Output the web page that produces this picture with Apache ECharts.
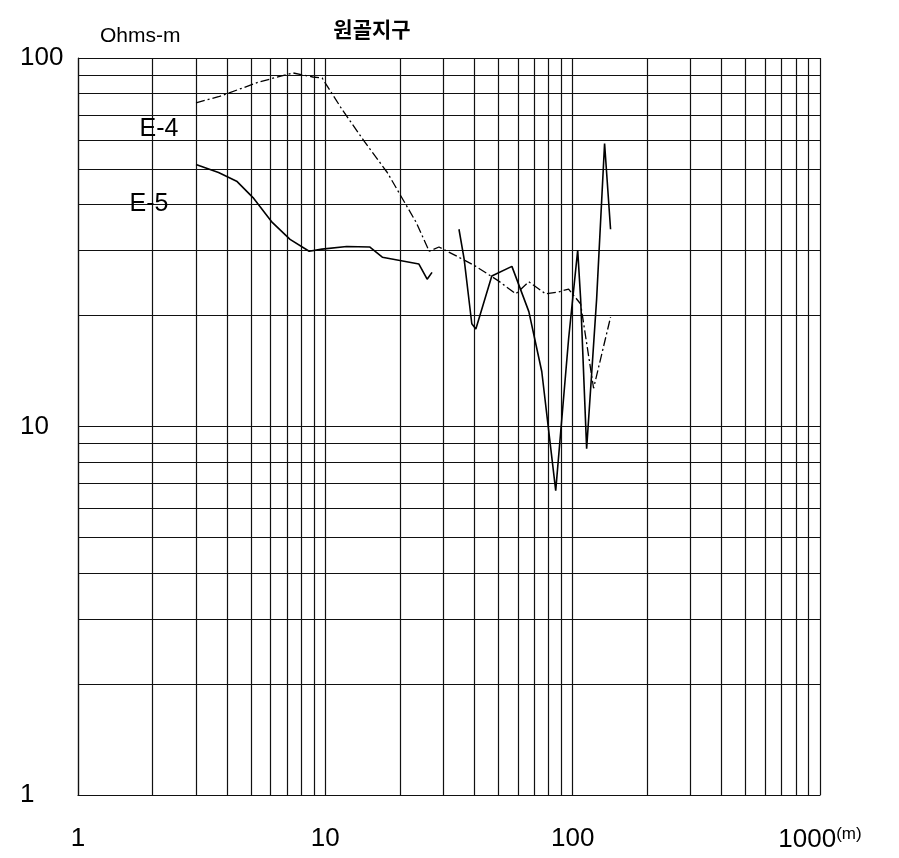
<!DOCTYPE html>
<html>
<head>
<meta charset="utf-8">
<script src="https://cdn.jsdelivr.net/npm/echarts@6/dist/echarts.min.js"></script>
<style>
  html, body { margin: 0; padding: 0; background: #fff; }
  #chart { width: 899px; height: 858px; }
</style>
</head>
<body>
<div id="chart"></div>
<script>
// Apparent resistivity sounding curves, 원골지구
const chartTitle = '원골지구';
const yUnit = 'Ohms-m';
const xUnit = '(m)';

// Log-grid values (decades and 2..9 subdivisions)
const gridX = [1, 2, 3, 4, 5, 6, 7, 8, 9, 10, 20, 30, 40, 50, 60, 70, 80, 90, 100,
               200, 300, 400, 500, 600, 700, 800, 900, 1000];
const gridY = [1, 2, 3, 4, 5, 6, 7, 8, 9, 10, 20, 30, 40, 50, 60, 70, 80, 90, 100];

// E-4 sounding: electrode spacing (m) and apparent resistivity (ohm-m)
const e4Dist = [3.0, 3.7, 5.4, 7.4, 8.9, 9.7, 11.7, 14.4, 17.8, 23.3, 26.3, 28.8, 35.7,
                40.6, 50.3, 58.9, 66.5, 77.8, 87.8, 96.3, 107.7, 121.5, 142.3];
const e4Rho  = [75.6, 78.5, 86.1, 91.1, 88.8, 88.3, 72.4, 59.3, 48.9, 35.8, 29.9, 30.7, 28.5,
                27.2, 24.8, 22.9, 24.7, 22.9, 23.2, 23.6, 21.5, 12.7, 19.8];

// E-5 sounding (null marks a gap in the curve)
const e5Dist = [3.0, 3.7, 4.4, 5.1, 6.1, 7.2, 8.6, 9.7, 12.2, 15.1, 17.0, 23.9, 25.8, 27.0, null,
                34.7, 36.4, 39.1, 40.6, 47.1, 56.8, 66.5, 75.0, 85.4, 96.3, 104.8, 107.7, 113.9,
                125.0, 134.6, 142.3];
const e5Rho  = [51.4, 48.9, 46.2, 41.8, 35.8, 32.2, 29.9, 30.3, 30.8, 30.7, 28.8, 27.6, 25.1, 26.2, null,
                34.3, 28.5, 19.0, 18.4, 25.6, 27.2, 20.5, 14.1, 6.7, 17.3, 30.1, 22.2, 8.7,
                22.2, 58.6, 34.3];

const FONT = '"Liberation Sans", Arial, sans-serif';

// Curve name is written beside the first reading of each sounding
function buildData(xs, ys, name, offset) {
  return xs.map(function (x, i) {
    const pt = [x === null ? '-' : x, ys[i] === null ? '-' : ys[i]];
    if (i === 0) {
      return {
        value: pt,
        label: {
          show: true, formatter: name, position: 'inside', offset: offset,
          fontFamily: FONT, fontSize: 25, color: '#000'
        }
      };
    }
    return pt;
  });
}

const chart = echarts.init(document.getElementById('chart'), null, { renderer: 'canvas' });

const gridLines = gridX.map(function (v) { return { xAxis: v }; })
  .concat(gridY.map(function (v) { return { yAxis: v }; }));

chart.setOption({
  backgroundColor: '#fff',
  animation: false,
  title: {
    text: chartTitle,
    left: 367, top: 14,
    textAlign: 'center',
    textStyle: { fontFamily: '"Noto Sans CJK KR", sans-serif', fontSize: 21, fontWeight: 'bold', color: '#000' }
  },
  grid: { left: 78, right: 79, top: 58, bottom: 63 },
  xAxis: {
    type: 'log', logBase: 10, min: 1, max: 1000,
    axisLine: { show: true, lineStyle: { color: '#000', width: 1.2 } },
    axisTick: { show: false },
    splitLine: { show: false },
    axisLabel: {
      margin: 31,
      formatter: function (v) { return v === 1000 ? '{a|1000}{s|' + xUnit + '}' : '{a|' + v + '}'; },
      rich: {
        a: { fontFamily: FONT, fontSize: 26, color: '#000' },
        s: { fontFamily: FONT, fontSize: 17, color: '#000', verticalAlign: 'top', padding: [0, 0, 10, 0] }
      }
    }
  },
  yAxis: {
    type: 'log', logBase: 10, min: 1, max: 100,
    name: yUnit,
    nameLocation: 'end',
    nameGap: 11,
    nameTextStyle: { fontFamily: FONT, fontSize: 21, color: '#000', align: 'left', padding: [0, 0, 0, 22] },
    axisLine: { show: true, lineStyle: { color: '#000', width: 1.2 } },
    axisTick: { show: false },
    splitLine: { show: false },
    axisLabel: { margin: 58, align: 'left', padding: [10, 0, 0, 0], fontFamily: FONT, fontSize: 26, color: '#000' }
  },
  series: [
    {
      name: 'grid',
      type: 'line',
      data: [],
      silent: true,
      markLine: {
        silent: true,
        symbol: 'none',
        label: { show: false },
        lineStyle: { color: '#111', type: 'solid', width: 1.2 },
        data: gridLines
      }
    },
    {
      name: 'E-4',
      type: 'line',
      data: buildData(e4Dist, e4Rho, 'E-4', [-37, 26]),
      symbol: 'circle',
      symbolSize: 0,
      showSymbol: true,
      connectNulls: false,
      lineStyle: { color: '#000', width: 1.3, type: [9, 3, 2, 3] },
      itemStyle: { color: '#000' },
      z: 5
    },
    {
      name: 'E-5',
      type: 'line',
      data: buildData(e5Dist, e5Rho, 'E-5', [-47, 40]),
      symbol: 'circle',
      symbolSize: 0,
      showSymbol: true,
      connectNulls: false,
      lineStyle: { color: '#000', width: 1.6 },
      itemStyle: { color: '#000' },
      z: 5
    }
  ]
});
</script>
</body>
</html>
